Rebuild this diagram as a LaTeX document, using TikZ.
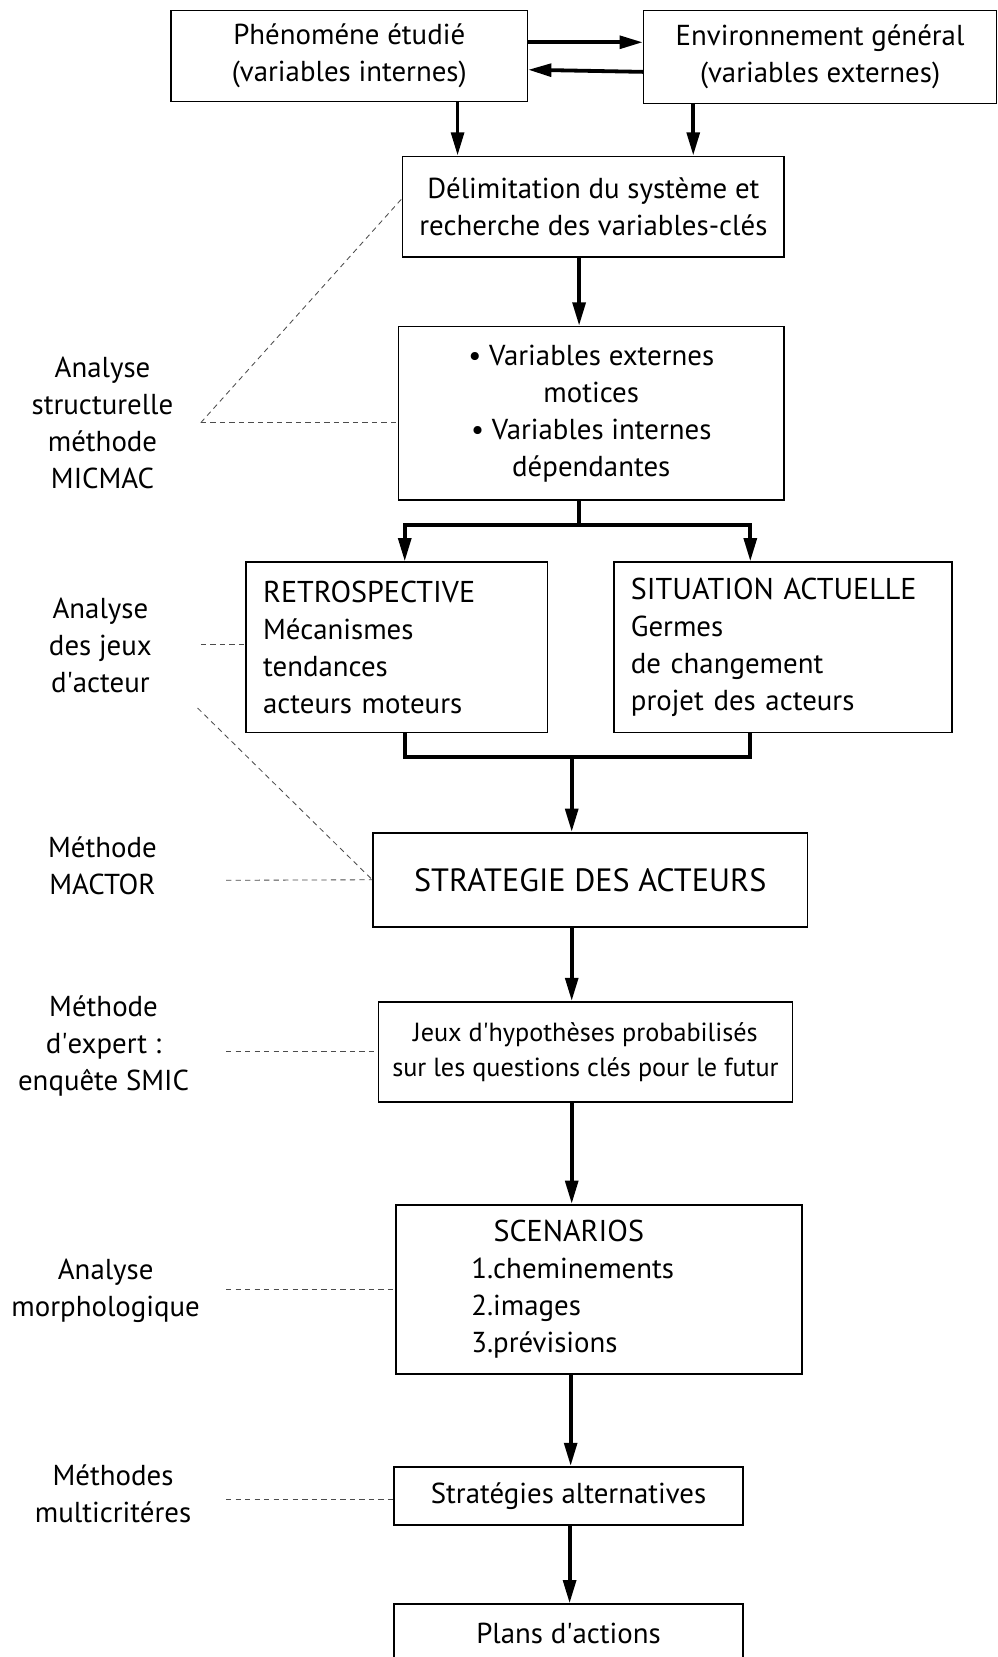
\documentclass[tikz,border=0pt]{standalone}
\usepackage{fontspec}
\setmainfont{PT Sans}
\usetikzlibrary{arrows.meta,calc}
\begin{document}
\begin{tikzpicture}[x=1pt,y=-1pt,
  every node/.style={font=\fontsize{27.3}{35}\selectfont},
  caps/.style={font=\fontsize{28.5}{35}\selectfont},
  box/.style={draw=black,line width=1.5pt,inner sep=0pt,align=center},
  lbl/.style={inner sep=0pt,align=center},
  arr/.style={line width=3.6pt,-{Triangle[length=22pt,width=12pt]}},
  ln/.style={line width=3.6pt},
  dl/.style={line width=0.8pt,gray!60!black,dash pattern=on 5pt off 4pt}]
\useasboundingbox (0,0) rectangle (944,1568);
\fill[white] (0,0) rectangle (944,1568);
% boxes
\node[box,minimum width=337pt,minimum height=86pt] (b1) at (330.5,53) {Phénoméne étudié\\(variables internes)};
\node[box,minimum width=334pt,minimum height=88pt] (b2) at (776,54) {Environnement général\\(variables externes)};
\node[box,minimum width=361pt,minimum height=95pt] (b3) at (561.5,195.5) {Délimitation du système et\\recherche des variables-clés};
\node[box,minimum width=365pt,minimum height=164pt] (b4) at (559.5,391) {\textbullet{} Variables externes\\motices\\\textbullet{} Variables internes\\dépendantes};
\node[box,minimum width=285pt,minimum height=161pt,text width=253pt,align=left] (b5) at (375.5,612.5) {{\fontsize{28.5}{35}\selectfont RETROSPECTIVE}\\Mécanismes\\tendances\\acteurs moteurs};
\node[box,minimum width=320pt,minimum height=161pt,text width=288pt,align=left] (b6) at (741,612.5) {{\fontsize{28.5}{35}\selectfont SITUATION ACTUELLE}\\Germes\\de changement\\projet des acteurs};
\node[box,minimum width=411pt,minimum height=89pt,font=\fontsize{30.5}{35}\selectfont] (b7) at (558.5,832.5) {STRATEGIE DES ACTEURS};
\node[box,minimum width=392pt,minimum height=95pt,font=\fontsize{24.8}{33}\selectfont] (b8) at (554,995.5) {Jeux d\textquotesingle hypothèses probabilisés\\sur les questions clés pour le futur};
\node[box,minimum width=384pt,minimum height=160pt,text width=242pt,align=left] (b9) at (567,1220) {\hspace*{21pt}{\fontsize{28.5}{35}\selectfont SCENARIOS}\\1.cheminements\\2.images\\3.prévisions};
\node[box,minimum width=330pt,minimum height=55pt] (b10) at (538,1415.5) {Stratégies alternatives};
\node[box,minimum width=330pt,minimum height=55pt] (b11) at (538,1545.5) {Plans d\textquotesingle actions};
% left labels
\node[lbl] (l1) at (97,400.5) {Analyse\\structurelle\\méthode\\MICMAC};
\node[lbl] (l2) at (95,610.5) {Analyse\\des jeux\\d\textquotesingle acteur};
\node[lbl] (l3) at (97,819) {Méthode\\MACTOR};
\node[lbl] (l4) at (98,990) {Méthode\\d\textquotesingle expert :\\enquête SMIC};
\node[lbl] (l5) at (100,1221) {Analyse\\morphologique};
\node[lbl] (l6) at (107,1414) {Méthodes\\multicritéres};
% top arrows
\draw[arr] ([yshift=13pt]b1.east) -- ([yshift=14pt]b2.west);
\draw[arr] ([yshift=-14pt]b2.west) -- ([yshift=-13pt]b1.east);
\coordinate (a1) at (433,96);
\coordinate (a2) at (656,98);
\draw[arr] (a1) -- (b3.north -| a1);
\draw[arr] (a2) -- (b3.north -| a2);
\draw[arr] ([xshift=-13.5pt]b3.south) -- ([xshift=-11.5pt]b4.north);
% split
\coordinate (j1) at (548,497);
\draw[ln] ([xshift=-11.5pt]b4.south) -- (j1);
\draw[arr] (j1) -| ([xshift=7.5pt]b5.north);
\draw[arr] (j1) -| ([xshift=-31pt]b6.north);
% merge
\coordinate (j2) at (541,716);
\draw[ln] ([xshift=7.5pt]b5.south) |- (j2);
\draw[ln] ([xshift=-31pt]b6.south) |- (j2);
\draw[arr] (j2) -- ([xshift=-17.5pt]b7.north);
\draw[arr] ([xshift=-17.5pt]b7.south) -- ([xshift=-13pt]b8.north);
\draw[arr] ([xshift=-13pt]b8.south) -- ([xshift=-26pt]b9.north);
\draw[arr] ([xshift=-27pt]b9.south) -- ([xshift=2pt]b10.north);
\draw[arr] ([xshift=1pt]b10.south) -- ([xshift=1pt]b11.north);
% dashed
\coordinate (d1) at (190,400);
\draw[dl] (d1) -- (b4.west |- d1);
\draw[dl] (d1) -- ([yshift=7.5pt]b3.west);
\coordinate (d2) at (190,610);
\draw[dl] (d2) -- (b5.west |- d2);
\coordinate (d3) at (187,670);
\draw[dl] (d3) -- (b7.west);
\coordinate (d4) at (214,833);
\draw[dl] (d4) -- (b7.west);
\coordinate (d5) at (214,995);
\draw[dl] (d5) -- (b8.west |- d5);
\coordinate (d6) at (214,1220);
\draw[dl] (d6) -- (b9.west |- d6);
\coordinate (d7) at (214,1419);
\draw[dl] (d7) -- (b10.west |- d7);
\end{tikzpicture}
\end{document}
